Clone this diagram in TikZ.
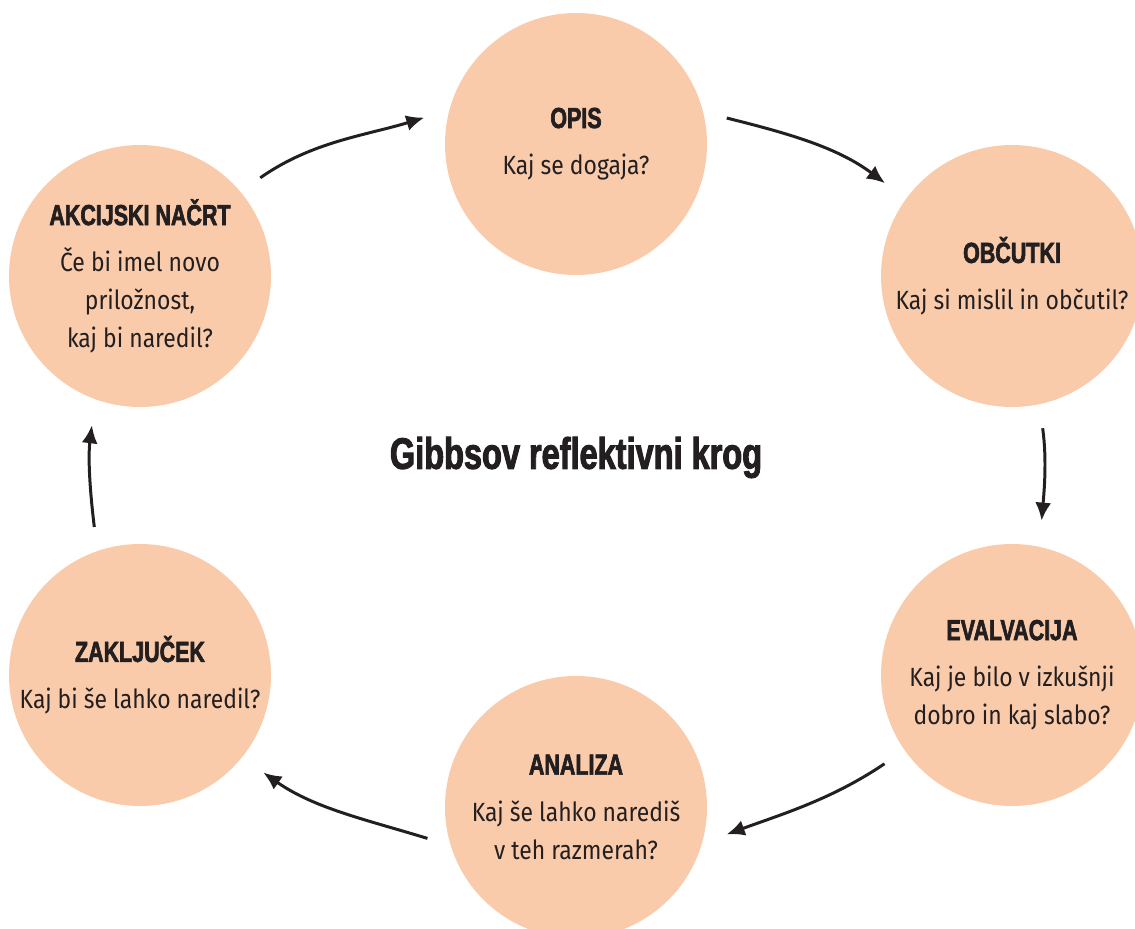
\documentclass[tikz,border=0pt]{standalone}
\usepackage{fontspec}
\setmainfont{Fira Sans}[FakeStretch=0.87]
\newfontfamily\headfont{Liberation Sans}[UprightFont=* Bold,FakeStretch=0.74,FakeBold=2.2]
\usetikzlibrary{arrows.meta}
\definecolor{peach}{HTML}{F9CBAB}
\definecolor{ink}{HTML}{231F20}

\begin{document}
\begin{tikzpicture}[
  stage/.style={circle,fill=peach,minimum size=5.24cm,inner sep=0pt,align=center,
    font=\fontsize{15}{21.5}\selectfont,text=ink},
  flow/.style={draw=ink,line width=1.7pt,-{Latex[length=3.6mm,width=3.2mm]},
    shorten <=0.48cm,shorten >=0.52cm},
]
\useasboundingbox (0,0) rectangle (22.7,-18.56);
\node[stage] (opis) at (11.52,-2.88) {{\headfont\fontsize{16.5}{20}\selectfont OPIS}\\[5pt]Kaj se dogaja?};
\node[stage] (obc) at (20.24,-5.52) {{\headfont\fontsize{16.5}{20}\selectfont OBČUTKI}\\[5pt]Kaj si mislil in občutil?};
\node[stage] (eval) at (20.24,-13.5) {{\headfont\fontsize{16.5}{20}\selectfont EVALVACIJA}\\[5pt]Kaj je bilo v izkušnji\\dobro in kaj slabo?};
\node[stage] (anal) at (11.52,-16.14) {{\headfont\fontsize{16.5}{20}\selectfont ANALIZA}\\[5pt]Kaj še lahko narediš\\v teh razmerah?};
\node[stage] (zak) at (2.8,-13.5) {{\headfont\fontsize{16.5}{20}\selectfont ZAKLJUČEK}\\[5pt]Kaj bi še lahko naredil?};
\node[stage] (akc) at (2.8,-5.52) {{\headfont\fontsize{16.5}{20}\selectfont AKCIJSKI NAČRT}\\[5pt]Če bi imel novo\\priložnost,\\kaj bi naredil?};
\node[font=\headfont\fontsize{25}{30}\selectfont,text=ink] (naslov) at (11.52,-9.15) {Gibbsov reflektivni krog};
% cikel
\draw[flow] (akc.40) to[out=35,in=197] (opis.165);
\draw[flow] (opis.14) to[out=-14,in=143] (obc.144);
\draw[flow] (obc.-78) to[out=-82,in=85] (eval.78);
\draw[flow] (eval.215) to[out=214,in=20] (anal.-16);
\draw[flow] (anal.197) to[out=163,in=-35] (zak.-39);
\draw[flow] (zak.109) to[out=97,in=-97] (akc.250);
\end{tikzpicture}
\end{document}
